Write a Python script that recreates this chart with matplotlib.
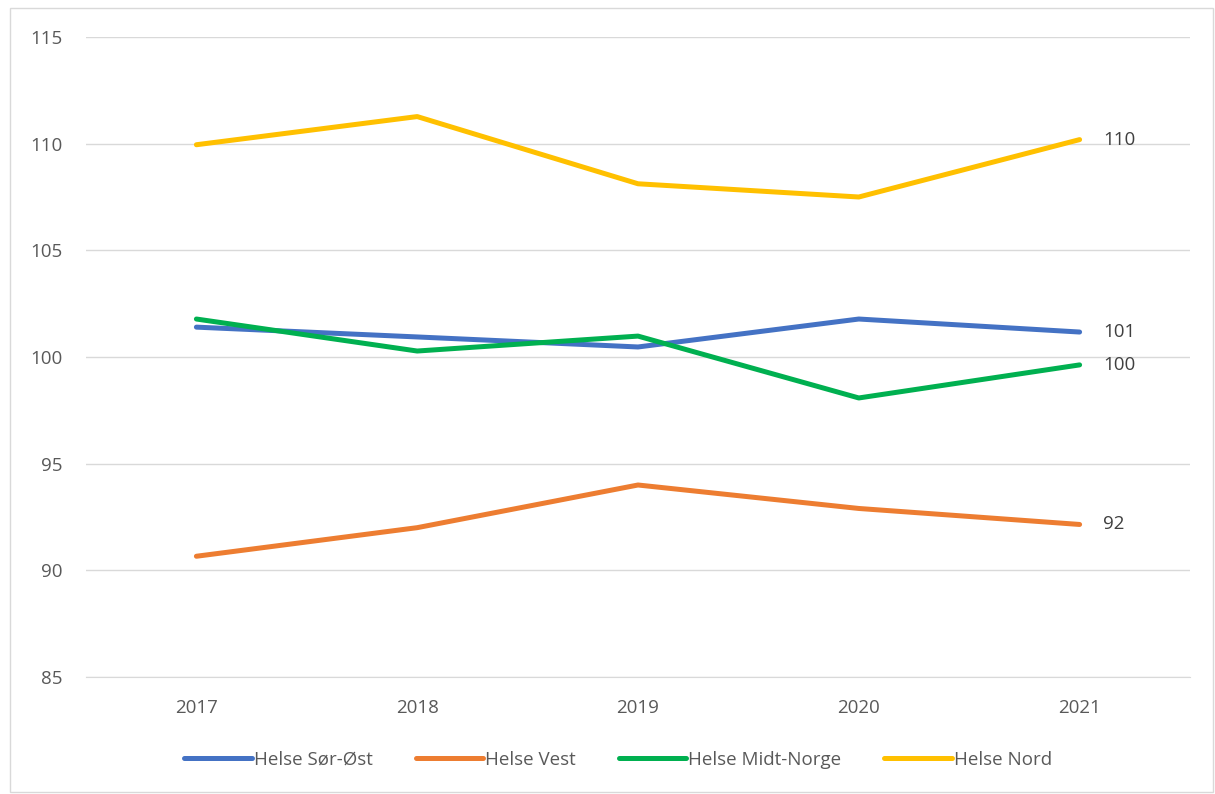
import matplotlib
matplotlib.use("Agg")
import matplotlib.pyplot as plt
from matplotlib.patches import Rectangle

years = ["2017", "2018", "2019", "2020", "2021"]
sor_ost = [101.4, 100.94, 100.47, 101.78, 101.17]
vest = [90.66, 92.0, 94.0, 92.9, 92.15]
midt_norge = [101.78, 100.28, 100.98, 98.08, 99.63]
nord = [109.95, 111.27, 108.12, 107.5, 110.19]
series_names = ["Helse Sør-Øst", "Helse Vest", "Helse Midt-Norge", "Helse Nord"]
end_labels = ["101", "92", "100", "110"]
colors = ["#4472C4", "#ED7D31", "#00B050", "#FFC000"]
yticks = [85, 90, 95, 100, 105, 110, 115]

plt.rcParams['font.family'] = ['Open Sans', 'DejaVu Sans']
FS = 13.5

fig = plt.figure(figsize=(12.15, 7.94), dpi=100)
fig.patches.append(Rectangle((10/1215, 2/794), 1203/1215, 784/794, transform=fig.transFigure,
                             fill=False, edgecolor="#D9D9D9", linewidth=1))
ax = fig.add_axes([86/1215, 117/794, 1104/1215, 640/794])

x = list(range(len(years)))
all_series = [sor_ost, vest, midt_norge, nord]
for vals, name, c, lab in zip(all_series, series_names, colors, end_labels):
    ax.plot(x, vals, color=c, linewidth=3.6, solid_capstyle="round", label=name)
    ax.annotate(lab, (x[-1], vals[-1]), xytext=(17, 0), textcoords="offset points",
                va="center", ha="left", fontsize=FS, color="#404040")

ax.set_xlim(-0.5, 4.5)
ax.set_ylim(85, 115)
ax.set_yticks(yticks)
ax.set_xticks(x)
ax.set_xticklabels(years)
ax.grid(axis="y", color="#D9D9D9", linewidth=1)
ax.set_axisbelow(True)
for s in ["top", "right", "left"]:
    ax.spines[s].set_visible(False)
ax.spines["bottom"].set_color("#D9D9D9")
ax.tick_params(axis="both", length=0, labelsize=FS, labelcolor="#595959")
ax.tick_params(axis="y", pad=17)
ax.tick_params(axis="x", pad=16)

leg = fig.legend(loc="center", bbox_to_anchor=(618/1215, 1 - 760/794), ncol=4, frameon=False,
                 fontsize=FS, handlelength=3.6, handletextpad=0.1, columnspacing=2.3)
for t in leg.get_texts():
    t.set_color("#595959")

fig.savefig("out.png", dpi=100)
